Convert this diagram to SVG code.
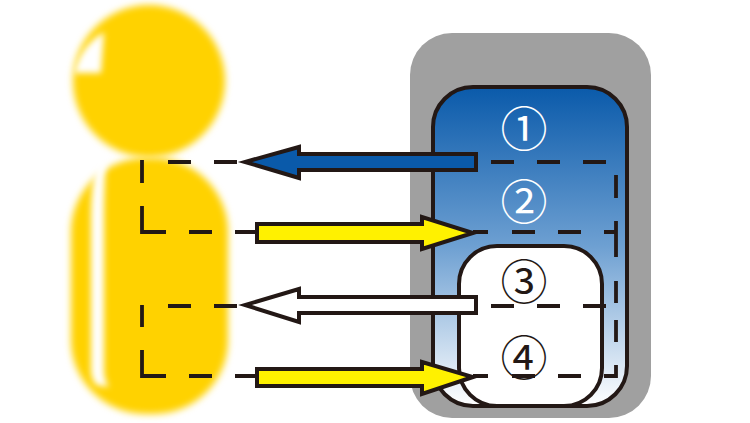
<svg xmlns="http://www.w3.org/2000/svg" width="750" height="423" viewBox="0 0 750 423">
<style>
.ln{stroke:#231815;stroke-width:4}
.dash{fill:none;stroke:#231815;stroke-width:3.8}
.ar{stroke:#231815;stroke-width:4;stroke-miterlimit:10}
.num{font-family:"Noto Sans CJK JP","DejaVu Sans",sans-serif;font-size:47px;text-anchor:middle}
</style>
<defs>
<linearGradient id="g" x1="0" y1="0" x2="0" y2="1">
<stop offset="0" stop-color="#0a5aaa"/><stop offset="0.5" stop-color="#6ea0d2"/><stop offset="1" stop-color="#ffffff"/>
</linearGradient>
<filter id="b" x="-10%" y="-10%" width="120%" height="120%"><feGaussianBlur stdDeviation="3.5"/></filter>
<filter id="h" x="-80%" y="-30%" width="260%" height="160%"><feGaussianBlur stdDeviation="3"/></filter>
</defs>
<rect width="750" height="423" fill="#fff"/>
<g id="person">
<circle cx="149" cy="81" r="76" fill="#ffd200" filter="url(#b)"/>
<rect x="71" y="158" width="157" height="256" rx="74" fill="#ffd200" filter="url(#b)"/>
<path d="M104 32 L101 73 L74 73 Q80 46 104 32Z" fill="#fff" filter="url(#h)"/>
<path d="M96 164 L106 158 Q104 190 104 215 L104 370 Q104 380 109 387 L96 385 Q91 378 91 370 L91 215 Q91 190 96 164Z" fill="#fff" filter="url(#h)"/>
</g>
<g id="device">
<rect x="410" y="33" width="241" height="385" rx="42" fill="#a0a0a0"/>
<rect x="433" y="87" width="194" height="319" rx="40" fill="url(#g)" class="ln"/>
<rect x="459" y="246" width="143" height="160" rx="38" fill="#fff" class="ln"/>
</g>
<g id="n1"><text class="num" x="524" y="146" fill="#fff">①</text></g>
<g id="n2"><text class="num" x="524" y="219" fill="#fff">②</text></g>
<g id="n3"><text class="num" x="524" y="299" fill="#231815">③</text></g>
<g id="n4"><text class="num" x="524" y="375" fill="#231815">④</text></g>
<g id="connectors">
<path class="dash" d="M491 162H514M537 162H560M583 162H606M616 175V198M616 221V257M616 281V303M616 320V342M616 365V376H604M581 376H558M535 376H512M488 376H473M604 232H617M581 232H558M535 232H512M488 232H473M491 306H514M537 306H560M583 306H606"/>
<path class="dash" d="M237 162H214M191 162H168M142 160V183M142 206V232H166M189 232H212M235 232H257M237 306H214M191 306H168M142 305V327M142 350V376H166M189 376H212M235 376H257"/>
<path class="ar" fill="#0a5aaa" d="M476 154H299V147L245 162L299 178V170H476Z"/>
<path class="ar" fill="#fff100" d="M257 224H422V217L473 233L422 249V242H257Z"/>
<path class="ar" fill="#fff" d="M476 297H299V289L245 305L299 322V313H476Z"/>
<path class="ar" fill="#fff100" d="M257 369H422V362L473 377L422 394V386H257Z"/>
</g>
</svg>
